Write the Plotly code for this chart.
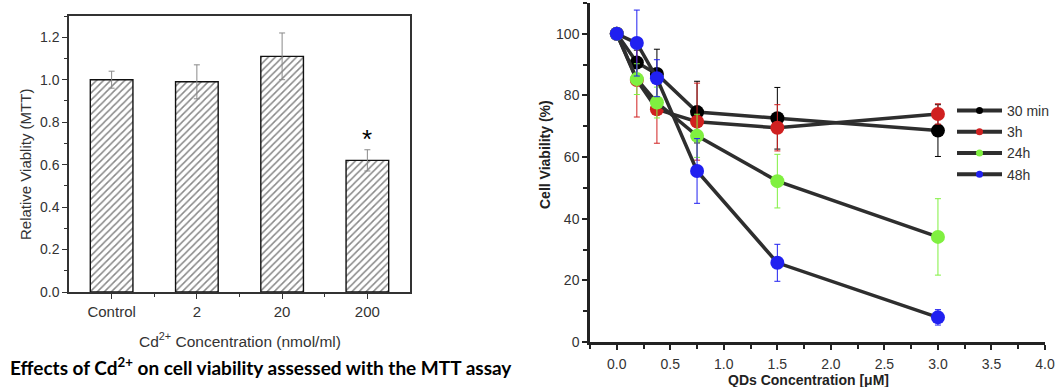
import plotly.graph_objects as go

# ---- Left chart data ----
cd_categories = ["Control", "2", "20", "200"]
cd_viability = [1.00, 0.99, 1.11, 0.62]
cd_error = [0.04, 0.08, 0.11, 0.05]
cd_ticks_y = [0.0, 0.2, 0.4, 0.6, 0.8, 1.0, 1.2]

# ---- Right chart data ----
qd_conc = [0, 0.1875, 0.375, 0.75, 1.5, 3.0]
series_names = ["30 min", "3h", "24h", "48h"]
v_30min = [100, 90.7, 87.0, 74.6, 72.6, 68.6]
e_30min = [0, 4, 8, 10, 10, 8.4]
v_3h = [100, 85.0, 75.5, 71.5, 69.5, 74.0]
e_3h = [0, 12, 11, 12.5, 7.5, 3.3]
v_24h = [100, 85.3, 77.7, 66.9, 52.2, 34.1]
e_24h = [0, 5, 5, 7, 8.7, 12.4]
v_48h = [100, 97.0, 85.6, 55.5, 25.7, 8.0]
e_48h = [0, 10.7, 6, 10.5, 6, 2.5]
series_values = [v_30min, v_3h, v_24h, v_48h]
series_errors = [e_30min, e_3h, e_24h, e_48h]
series_colors = ["#000000", "#d02020", "#80f040", "#2020f0"]

W, H = 1056, 387
def px(x): return x / W
def py(y): return 1 - y / H

fig = go.Figure()

# Bars
fig.add_trace(go.Bar(
    x=list(range(len(cd_categories))), y=cd_viability,
    width=0.5,
    marker=dict(color="white", line=dict(color="#111", width=1.4),
                pattern=dict(shape="/", fgcolor="#111", bgcolor="white", size=5, solidity=0.3)),
    error_y=dict(type="data", array=cd_error, color="#8a8a8a", thickness=1, width=3),
    xaxis="x", yaxis="y", showlegend=False,
))

LINE_COLOR = "#2e2e2e"
for name, vals, errs, col in zip(series_names, series_values, series_errors, series_colors):
    fig.add_trace(go.Scatter(
        x=qd_conc, y=vals, mode="lines+markers", name=name,
        line=dict(color=LINE_COLOR, width=3.5),
        marker=dict(color=col, size=14, line=dict(width=0)),
        error_y=dict(type="data", array=errs, color=col, thickness=1, width=3),
        xaxis="x2", yaxis="y2", showlegend=False,
    ))
# legend entries
for name, col in zip(series_names, series_colors):
    fig.add_trace(go.Scatter(
        x=[None], y=[None], mode="lines+markers", name=name,
        line=dict(color=LINE_COLOR, width=4),
        marker=dict(color=col, size=7),
        xaxis="x2", yaxis="y2", showlegend=True,
    ))

FONT = "Liberation Sans, Arial"
tickfont_y = dict(family=FONT, size=14, color="#333333")
tickfont_x = dict(family=FONT, size=15, color="#333333")
tickfont2 = dict(family=FONT, size=14, color="#333333")

fig.update_layout(
    width=W, height=H,
    margin=dict(l=0, r=0, t=0, b=0, autoexpand=False),
    paper_bgcolor="white", plot_bgcolor="white",
    xaxis=dict(
        domain=[px(69), px(410)], range=[-0.5, 3.5],
        tickvals=list(range(len(cd_categories))), ticktext=cd_categories,
        ticks="outside", ticklen=5, tickwidth=1.2, tickcolor="#333",
        minor=dict(tickvals=[0.5, 1.5, 2.5], ticks="outside", ticklen=3, tickcolor="#333"),
        showline=True, linecolor="#333", linewidth=1.5, mirror=True,
        showgrid=False, zeroline=False, tickfont=tickfont_x,
    ),
    yaxis=dict(
        domain=[py(292), py(16)], range=[0, 1.3],
        tickvals=cd_ticks_y, tickformat=".1f",
        ticks="outside", ticklen=5, tickwidth=1.2, tickcolor="#333",
        minor=dict(dtick=0.1, ticks="outside", ticklen=3, tickcolor="#333", showgrid=False),
        showline=True, linecolor="#333", linewidth=1.5, mirror=True,
        showgrid=False, zeroline=False, tickfont=tickfont_y,
    ),
    xaxis2=dict(
        domain=[px(590), px(1045)], range=[-0.25, 4.0], anchor="y2",
        dtick=0.5, tick0=0, tickformat=".1f",
        ticks="outside", ticklen=5, tickwidth=2, tickcolor="#222",
        ticklabelstandoff=2,
        minor=dict(dtick=0.25, tick0=0, ticks="outside", ticklen=4, tickwidth=1.5, tickcolor="#222"),
        showline=True, linecolor="#222", linewidth=2.5,
        showgrid=False, zeroline=False, tickfont=tickfont2,
    ),
    yaxis2=dict(
        domain=[py(342), py(3)], range=[0, 110], anchor="x2",
        dtick=20, tick0=0,
        ticks="outside", ticklen=5, tickwidth=2, tickcolor="#222",
        minor=dict(dtick=10, tick0=0, ticks="outside", ticklen=4, tickwidth=1.5, tickcolor="#222", showgrid=False),
        showline=True, linecolor="#222", linewidth=2.5,
        showgrid=False, zeroline=False, tickfont=tickfont2,
    ),
    legend=dict(
        x=px(952), y=py(95), xanchor="left", yanchor="top",
        font=dict(family=FONT, size=14, color="#333"),
        bgcolor="rgba(0,0,0,0)", itemwidth=45, tracegroupgap=0,
    ),
    annotations=[
        dict(text="*", x=3, y=0.72, xref="x", yref="y", showarrow=False,
             font=dict(family=FONT, size=26, color="black"),
             xanchor="center", yanchor="middle"),
        dict(text="Cd<sup>2+</sup> Concentration (nmol/ml)", x=px(240), y=py(340),
             xref="paper", yref="paper", showarrow=False, xanchor="center", yanchor="middle",
             font=dict(family=FONT, size=15.5, color="#333")),
        dict(text="Relative Viablity (MTT)", x=px(25), y=py(165), textangle=-90,
             xref="paper", yref="paper", showarrow=False, xanchor="center", yanchor="middle",
             font=dict(family=FONT, size=15, color="#333")),
        dict(text="<b>Effects of Cd<sup>2+</sup> on cell viability assessed with the MTT assay</b>",
             x=px(8), y=py(366), xanchor="left", yanchor="middle", xref="paper", yref="paper",
             showarrow=False, font=dict(family="Lato", size=19, color="black")),
        dict(text="<b>Cell Viability (%)</b>", x=px(545), y=py(155), textangle=-90,
             xref="paper", yref="paper", showarrow=False, xanchor="center", yanchor="middle",
             font=dict(family=FONT, size=14, color="#222")),
        dict(text="<b>QDs Concentration [μM]</b>", x=px(808), y=py(379.5),
             xref="paper", yref="paper", showarrow=False, xanchor="center", yanchor="middle",
             font=dict(family=FONT, size=14, color="#222")),
    ],
)

fig.write_html("out.html")
